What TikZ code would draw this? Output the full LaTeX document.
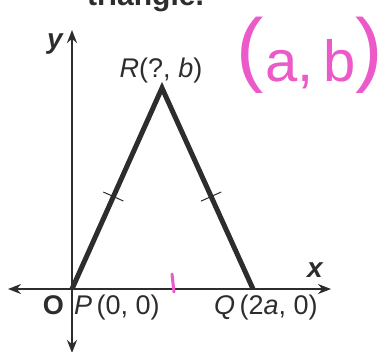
\documentclass[tikz,border=0pt]{standalone}
\usepackage{fontspec}
\setmainfont{Liberation Sans}
\usetikzlibrary{arrows.meta, positioning, calc}
\definecolor{cInk}{RGB}{45,45,45}
\definecolor{cPink}{RGB}{235,90,200}
\tikzset{
	axis/.style ={draw=cInk, line width=2.6pt, {Stealth[length=13pt, width=10pt]}-{Stealth[length=13pt, width=10pt]}},
	side/.style ={draw=cInk, line width=5pt, line join=miter},
	hatch/.style={draw=cInk, line width=1pt},
	lbl/.style  ={font=\fontsize{27}{27}\selectfont, text=cInk, inner sep=0pt},
	axlbl/.style={font=\bfseries\itshape\fontsize{28}{28}\selectfont, text=cInk, inner sep=0pt},
	pen/.style  ={draw=cPink, line width=3pt, line cap=round},
}

\begin{document}
\begin{tikzpicture}[x=1pt, y=-1pt]
	\useasboundingbox (0,0) rectangle (390,351);
	\clip (0,0) rectangle (390,351);
	% heading, cut by the top edge
	\node[font=\bfseries\fontsize{30}{30}\selectfont, text=cInk, anchor=base west, inner sep=0pt] (head) at (87,5) {triangle.};
	% axes
	\coordinate (xl) at (8,289); \coordinate (xr) at (331,289);
	\coordinate (yb) at (72,353); \coordinate (yt) at (72,30);
	\draw[axis] (xl) -- (xr);
	\draw[axis] (yb) -- (yt);
	% triangle
	\coordinate (P) at (72,289); \coordinate (R) at (162,88); \coordinate (Q) at (253,289);
	\draw[side] (P) -- (R) -- (Q);
	\coordinate (mL) at ($(P)!0.46!(R)$); \coordinate (mR) at ($(Q)!0.46!(R)$);
	\draw[hatch] ($(mL)!11pt!90:(R)$) -- ($(mL)!11pt!-90:(R)$);
	\draw[hatch] ($(mR)!11pt!90:(R)$) -- ($(mR)!11pt!-90:(R)$);
	% labels
	\node[axlbl, anchor=base east] (ylbl) at (63,48) {y};
	\node[axlbl, anchor=base] (xlbl) at (315,277) {x};
	\node[lbl, anchor=base] (Rlbl) at (161,77) {\textit{R}(?, \textit{b})};
	\node[lbl, font=\bfseries\fontsize{27}{27}\selectfont, anchor=base east] (Olbl) at (64,314) {O};
	\node[lbl, anchor=base west] (Plbl) at (74,314) {\textit{P}\,(0, 0)};
	\node[lbl, anchor=base west] (Qlbl) at (214,314) {\textit{Q}\,(2\textit{a}, 0)};
	% pink handwriting
	\node[text=cPink, inner sep=0pt, anchor=base] (note) at (310,81) {\raisebox{5pt}{\fontsize{82}{82}\selectfont(}\,\fontsize{58}{58}\selectfont a,\,b\raisebox{5pt}{\fontsize{82}{82}\selectfont)}};
	\coordinate (pA) at (172,274); \coordinate (pB) at (174,292);
	\draw[pen] (pA) -- (pB);
\end{tikzpicture}
\end{document}
